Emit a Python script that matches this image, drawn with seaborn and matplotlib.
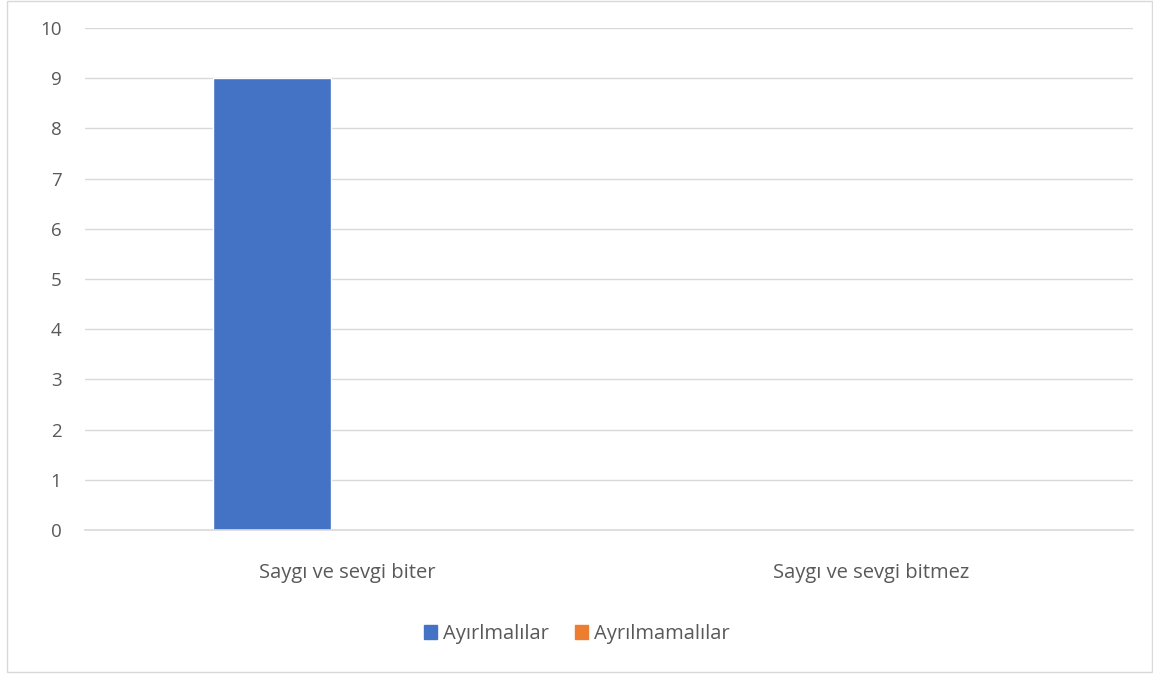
import matplotlib
matplotlib.use("Agg")
import matplotlib.pyplot as plt
import seaborn as sns
import pandas as pd
from matplotlib.patches import Rectangle

categories = ["Saygı ve sevgi biter", "Saygı ve sevgi bitmez"]
series_names = ["Ayırlmalılar", "Ayrılmamalılar"]
ayirlmalilar = [9, 0]
ayrilmamalilar = [0, 0]
colors = ["#4472C4", "#ED7D31"]

df = pd.DataFrame({
    "category": categories * 2,
    "series": [series_names[0]] * 2 + [series_names[1]] * 2,
    "value": ayirlmalilar + ayrilmamalilar,
})

sns.set_style("white")
plt.rcParams["font.family"] = ["Open Sans", "DejaVu Sans"]

fig = plt.figure(figsize=(11.53, 6.75), dpi=100)
ax = fig.add_axes([85 / 1153, 145 / 675, 1048 / 1153, 502 / 675])

# excel-like: bars with a small gap between series
sns.barplot(data=df, x="category", y="value", hue="series", palette=colors,
            saturation=1, width=0.5725, gap=0.213, ax=ax, legend=False)

ax.set_ylim(0, 10)
ax.set_xlim(-0.5, 1.5)
ax.set_yticks(range(0, 11))
ax.yaxis.grid(True, color="#d9d9d9", linewidth=1)
ax.set_axisbelow(True)
for s in ["top", "right", "left"]:
    ax.spines[s].set_visible(False)
ax.spines["bottom"].set_color("#d9d9d9")
ax.spines["bottom"].set_linewidth(1.2)
ax.tick_params(axis="y", length=0, pad=17, labelsize=13.5, labelcolor="#595959")
ax.tick_params(axis="x", length=0, pad=24, labelsize=14.5, labelcolor="#595959")
ax.set_xlabel("")
ax.set_ylabel("")

handles = [Rectangle((0, 0), 1, 1, color=c) for c in colors]
fig.legend(handles, series_names, loc="center", bbox_to_anchor=(0.5, 1 - 634 / 675),
           ncol=2, frameon=False, fontsize=14.5, labelcolor="#595959",
           handlelength=0.65, handleheight=0.65, handletextpad=0.3, columnspacing=1.3)

fig.patches.append(Rectangle((7 / 1153, 3 / 675), 1 - 8 / 1153, 1 - 4 / 675,
                             transform=fig.transFigure, fill=False,
                             edgecolor="#d9d9d9", linewidth=1))

fig.savefig("out.png", dpi=100)
plt.close(fig)
